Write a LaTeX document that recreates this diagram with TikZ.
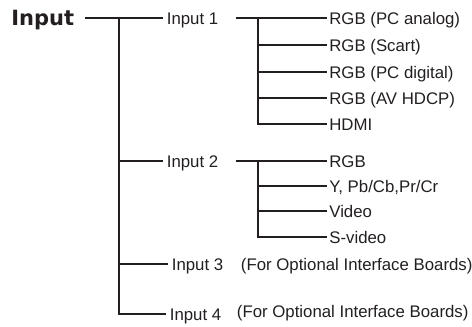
\documentclass[tikz,border=0pt]{standalone}
\usepackage{fontspec}
\setmainfont{Liberation Sans}
\newfontfamily\rootfont{DejaVu Sans}
\usetikzlibrary{positioning}
\definecolor{Ink}{HTML}{231F20}

\begin{document}
\begin{tikzpicture}[x=1pt, y=-1pt, line width=2.7pt, color=Ink,
    root/.style={anchor=west, inner sep=0pt, font=\rootfont\bfseries\fontsize{21}{25}\selectfont, text height=15.3pt, text depth=0pt},
    port/.style={anchor=west, inner xsep=2.5pt, inner ysep=0pt, font=\fontsize{16.8}{20}\selectfont, text height=12pt, text depth=0pt},
    leaf/.style={port, inner xsep=1pt},
    note/.style={port, inner xsep=0pt}]
    \useasboundingbox (0,0) rectangle (472,327);
    % top level
    \node[root] (in) at (10,18) {Input};
    \node[port] (i1) at (163,18) {Input 1};
    \node[port] (i2) at (163,161) {Input 2};
    \node[port] (i3) at (168,264) {Input 3};
    \node[port] (i4) at (166,314) {Input 4};
    \node[note, right=12.5pt of i3] (o3) {(For Optional Interface Boards)};
    \node[note, right=10.5pt of i4, yshift=3pt] (o4) {(For Optional Interface Boards)};
    % sources of input 1 and input 2
    \foreach \n/\yy/\txt in {a1/18/RGB (PC analog), a2/45/RGB (Scart), a3/72/RGB (PC digital), a4/98/RGB (AV HDCP), a5/124/HDMI}
      \node[leaf] (\n) at (327,\yy) {\txt};
    \foreach \n/\yy/\txt in {b1/161/RGB, b2/186/{Y, Pb/Cb,Pr/Cr}, b3/211/Video, b4/237/S-video}
      \node[leaf] (\n) at (327,\yy) {\txt};
    % trunk
    \coordinate (tr) at (119,18);
    \draw[shorten <=10pt] (in.east) -- (i1.west);
    \draw (tr) -- (tr |- i4) -- (i4.west);
    \draw (tr |- i2) -- (i2.west);
    \draw (tr |- i3) -- (i3.west);
    % branches
    \coordinate (s1) at (258,18);
    \coordinate (s2) at (258,161);
    \draw[shorten <=13.6pt] (i1.east) -- (a1.west);
    \draw (s1) -- (s1 |- a5) -- (a5.west);
    \foreach \n in {a2,a3,a4}
      \draw (s1 |- \n) -- (\n.west);
    \draw[shorten <=13.6pt] (i2.east) -- (b1.west);
    \draw (s2) -- (s2 |- b4) -- (b4.west);
    \foreach \n in {b2,b3}
      \draw (s2 |- \n) -- (\n.west);
\end{tikzpicture}
\end{document}
